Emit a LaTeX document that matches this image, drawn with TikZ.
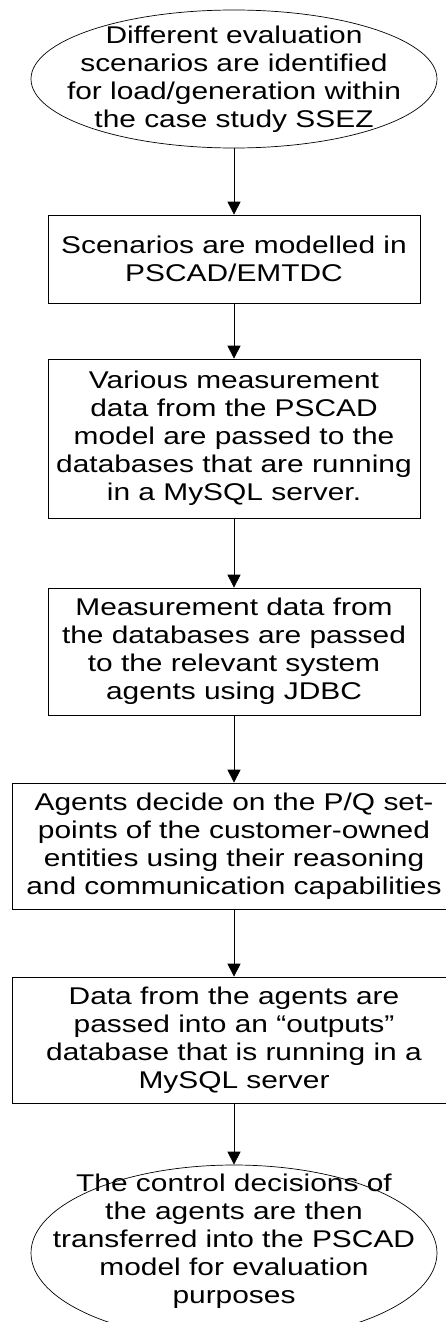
\documentclass[tikz,border=0pt]{standalone}
\usepackage{fontspec}
\setmainfont{Liberation Sans}[FakeStretch=1.235]
\usepackage{tikz}
\usetikzlibrary{shapes.geometric, arrows.meta}

\begin{document}
\begin{tikzpicture}[x=1pt, y=-1pt,
  font=\fontsize{24.2}{28}\selectfont,
  box/.style={draw, line width=0.7pt, rectangle, align=center, inner sep=0pt},
  oval/.style={draw, line width=0.7pt, ellipse, align=center, inner xsep=-120pt, inner ysep=-60pt, minimum width=406pt},
  flow/.style={line width=0.7pt, -{Triangle[length=13pt, width=13pt]}}]
\useasboundingbox (0,0) rectangle (446,1322);
% start and end are ovals, the steps are boxes
\node[oval, minimum height=138pt] (scenarios) at (234,79) {Different evaluation\\scenarios are identified\\for load/generation within\\the case study SSEZ};
\node[box, minimum width=372pt, minimum height=88pt] (pscad) at (234,259) {Scenarios are modelled in\\PSCAD/EMTDC};
\node[box, minimum width=372pt, minimum height=159pt] (mysql) at (234,438.5) {Various measurement\\data from the PSCAD\\model are passed to the\\databases that are running\\in a MySQL server.};
\node[box, minimum width=372pt, minimum height=127pt] (jdbc) at (234,651.5) {Measurement data from\\the databases are passed\\to the relevant system\\agents using JDBC};
\node[box, minimum width=444pt, minimum height=126pt] (agents) at (234,846) {Agents decide on the P/Q set-\\points of the customer-owned\\entities using their reasoning\\and communication capabilities};
\node[box, minimum width=444pt, minimum height=126pt] (outputs) at (234,1040) {Data from the agents are\\passed into an “outputs”\\database that is running in a\\MySQL server};
\node[oval, minimum height=176pt] (control) at (234,1253) {The control decisions of\\the agents are then\\transferred into the PSCAD\\model for evaluation\\purposes\rule[-29pt]{0pt}{0pt}};
% arrows
\draw[flow] (scenarios) -- (pscad);
\draw[flow] (pscad) -- (mysql);
\draw[flow] (mysql) -- (jdbc);
\draw[flow] (jdbc) -- (agents);
\draw[flow] (agents) -- (outputs);
\draw[flow] (outputs) -- (control);
\end{tikzpicture}
\end{document}
